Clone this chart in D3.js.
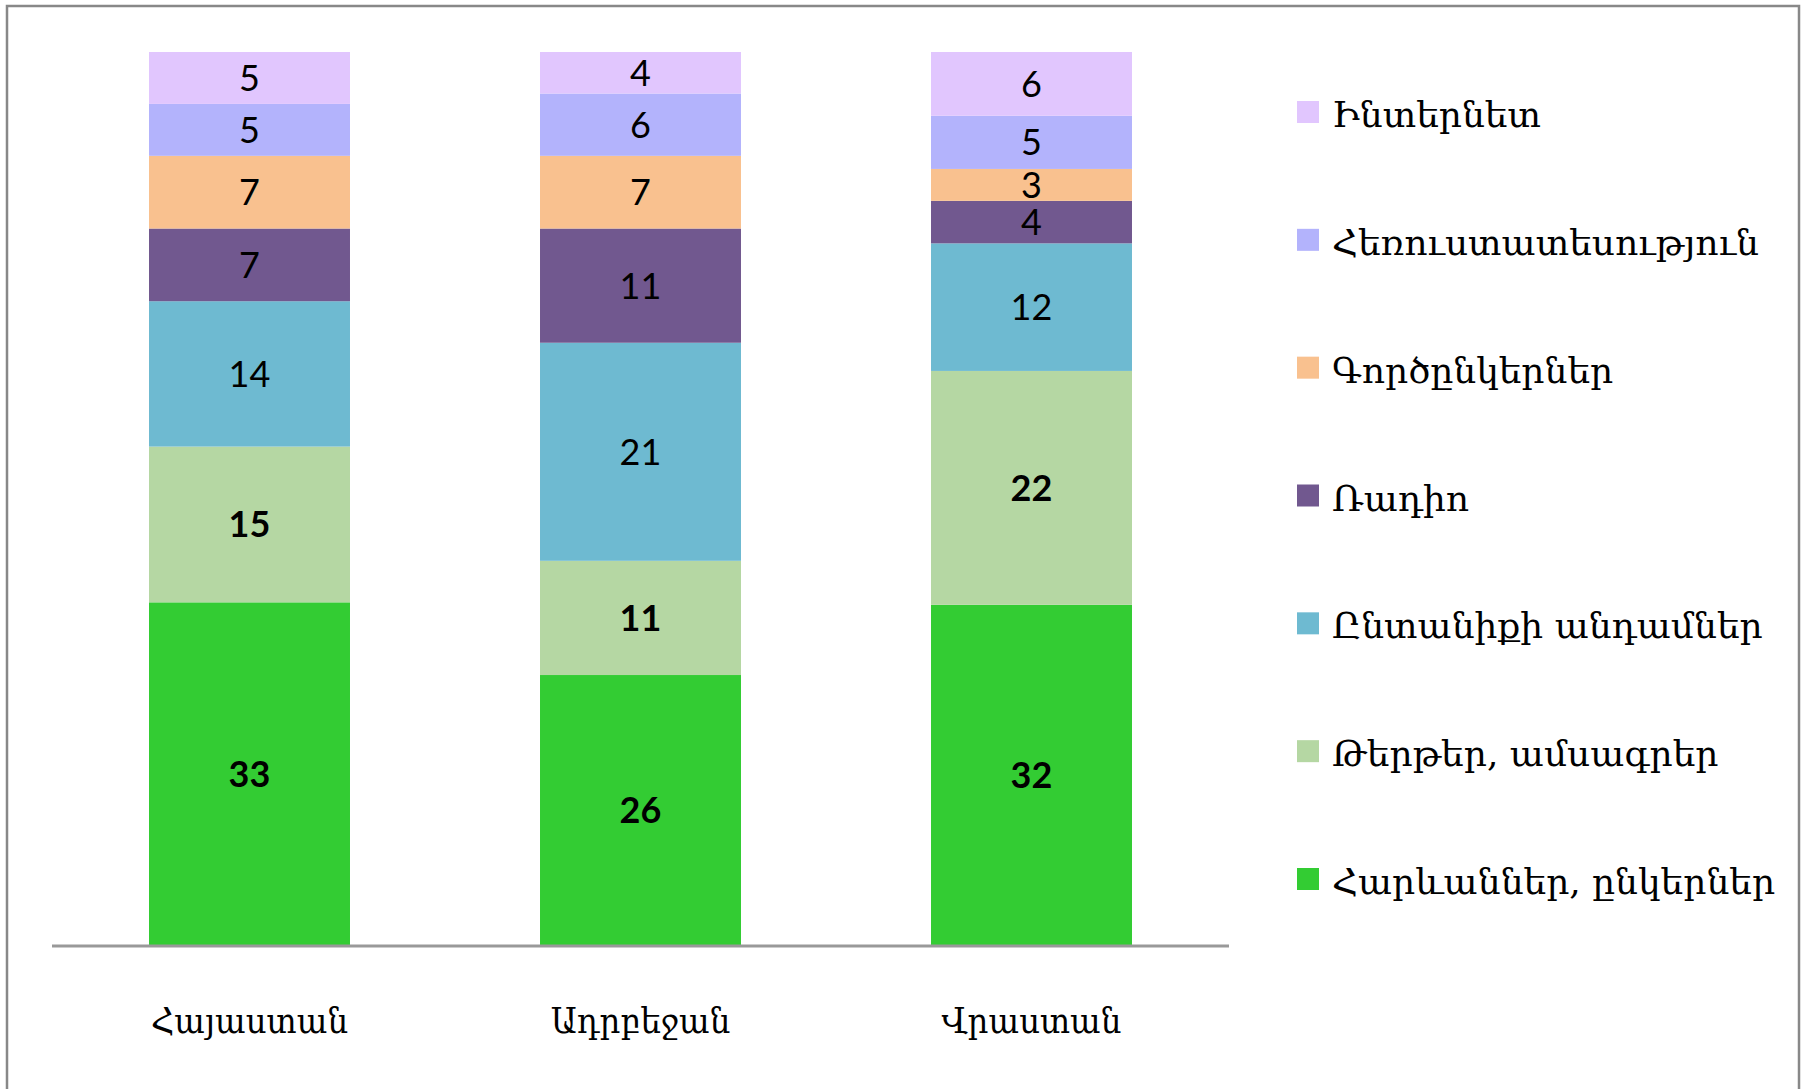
<!DOCTYPE html>
<html><head><meta charset="utf-8">
<script src="https://cdn.jsdelivr.net/npm/d3@7"></script>
<style>html,body{margin:0;padding:0;background:#fff}</style>
</head><body>
<svg id="chart" width="1808" height="1089"></svg>
<script>
const categories = ["Հայաստան", "Ադրբեջան", "Վրաստան"];
const seriesNames = [
  "Հարևաններ, ընկերներ",
  "Թերթեր, ամսագրեր",
  "Ընտանիքի անդամներ",
  "Ռադիո",
  "Գործընկերներ",
  "Հեռուստատեսություն",
  "Ինտերնետ"
];
const seriesColors = ["#33CC33", "#B5D7A3", "#6EBAD1", "#71588F", "#F9C18F", "#B3B3FC", "#E1C6FE"];
const boldSeries = [true, true, false, false, false, false, false];
const valuesHayastan = [33, 15, 14, 7, 7, 5, 5];
const valuesAdrbejan = [26, 11, 21, 11, 7, 6, 4];
const valuesVrastan  = [32, 22, 12, 4, 3, 5, 6];
const values = [valuesHayastan, valuesAdrbejan, valuesVrastan];

const svg = d3.select("#chart");

// frame
svg.append("rect").attr("x", 7).attr("y", 6).attr("width", 1792).attr("height", 1100)
  .attr("fill", "#fff").attr("stroke", "#888").attr("stroke-width", 2.5);

const x = d3.scaleBand().domain(categories).range([54, 1227]).paddingInner(0.486).paddingOuter(0.243);
const y = d3.scaleLinear().domain([0, 1]).range([945, 52]);

// build stacked rows (100%)
const rows = categories.map((c, i) => {
  const o = {cat: c};
  const tot = d3.sum(values[i]);
  seriesNames.forEach((s, j) => { o[s] = values[i][j] / tot; o["raw" + j] = values[i][j]; });
  return o;
});
const stack = d3.stack().keys(seriesNames);
const layers = stack(rows);

const g = svg.append("g");
layers.forEach((layer, j) => {
  g.selectAll(null).data(layer).join("rect")
    .attr("x", d => x(d.data.cat))
    .attr("width", x.bandwidth())
    .attr("y", d => y(d[1]))
    .attr("height", d => y(d[0]) - y(d[1]))
    .attr("fill", seriesColors[j]);
});
layers.forEach((layer, j) => {
  g.selectAll(null).data(layer).join("text")
    .attr("x", d => x(d.data.cat) + x.bandwidth() / 2)
    .attr("y", d => (y(d[0]) + y(d[1])) / 2)
    .attr("dy", "0.36em")
    .attr("text-anchor", "middle")
    .attr("font-family", "Lato, 'Open Sans', sans-serif")
    .attr("font-size", 36)
    .attr("font-weight", boldSeries[j] ? "bold" : "normal")
    .attr("fill", "#000")
    .text(d => d.data["raw" + j]);
});

// axis
const axis = svg.append("g").attr("transform", "translate(0,946)")
  .call(d3.axisBottom(x).tickSize(0).tickPadding(0));
axis.select(".domain").attr("d", "M52,0H1229").attr("stroke", "#999").attr("stroke-width", 3);
axis.selectAll(".tick text")
  .attr("y", 87).attr("dy", 0)
  .attr("font-family", "'DejaVu Serif', serif")
  .attr("font-stretch", "condensed")
  .attr("font-size", 36)
  .attr("fill", "#000");

// legend (top to bottom reversed)
const legendItems = seriesNames.map((s, j) => ({name: s, color: seriesColors[j]})).reverse();
const ly = d3.scalePoint().domain(legendItems.map(d => d.name)).range([112, 879]);
const lg = svg.append("g");
lg.selectAll("rect").data(legendItems).join("rect")
  .attr("x", 1297).attr("y", d => ly(d.name) - 11)
  .attr("width", 22).attr("height", 22).attr("fill", d => d.color);
lg.selectAll("text").data(legendItems).join("text")
  .attr("x", 1332).attr("y", d => ly(d.name) + 15)
  .attr("font-family", "'DejaVu Serif', serif")
  .attr("font-size", 36)
  .attr("fill", "#000")
  .text(d => d.name);
</script>
</body></html>
